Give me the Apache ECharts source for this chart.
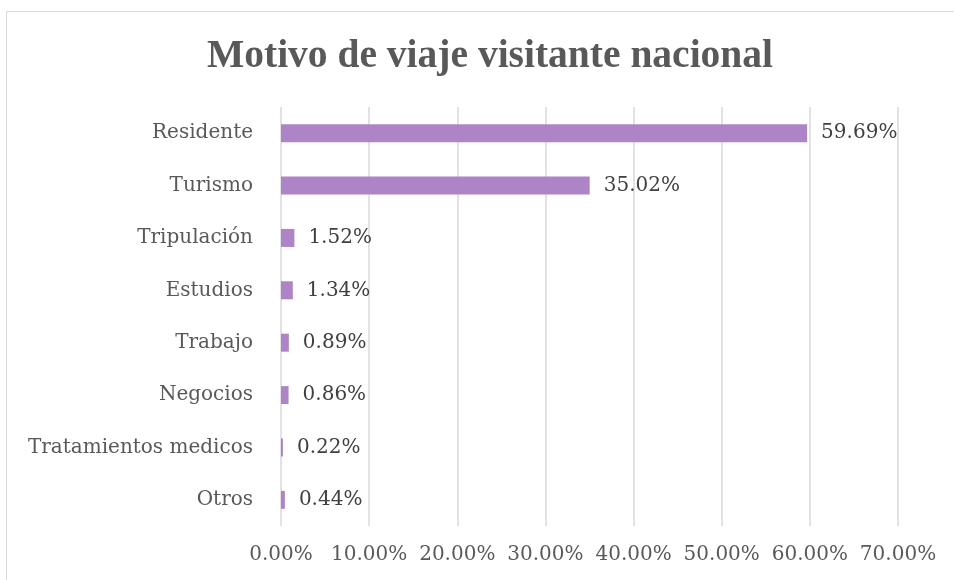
<!DOCTYPE html>
<html>
<head>
<meta charset="utf-8">
<script src="https://cdn.jsdelivr.net/npm/echarts@6/dist/echarts.min.js"></script>
<style>
    html, body { margin: 0; padding: 0; background: #fff; }
    #chart { width: 954px; height: 580px; }
</style>
</head>
<body>
<div id="chart"></div>
<script>
    // motivos de viaje (de arriba hacia abajo)
    var categorias = ["Residente", "Turismo", "Tripulación", "Estudios", "Trabajo", "Negocios", "Tratamientos medicos", "Otros"];
    // porcentajes
    var valores = [59.69, 35.02, 1.52, 1.34, 0.89, 0.86, 0.22, 0.44];
    var ejeMax = 70;
    var ejePaso = 10;

    var serif = "'DejaVu Serif', 'Liberation Serif', serif";
    var chart = echarts.init(document.getElementById("chart"));

    var option = {
        backgroundColor: "#fff",
        animation: false,
        title: {
            text: "Motivo de viaje visitante nacional",
            left: 485,
            top: 32,
            textAlign: "center",
            textStyle: {
                fontFamily: "'Liberation Serif', serif",
                fontSize: 39.5,
                fontWeight: "bold",
                color: "#595959"
            }
        },
        graphic: [{
            type: "rect",
            shape: { x: 6.5, y: 11.5, width: 1000, height: 1000 },
            style: { fill: "none", stroke: "#d9d9d9", lineWidth: 1 },
            silent: true
        }],
        grid: {
            left: 281,
            right: 56,
            top: 107,
            bottom: 54
        },
        xAxis: {
            type: "value",
            min: 0,
            max: ejeMax,
            interval: ejePaso,
            axisLine: { show: false },
            axisTick: { show: false },
            splitLine: { lineStyle: { color: "#d9d9d9", width: 1.5 } },
            axisLabel: {
                margin: 19,
                fontFamily: serif,
                fontSize: 20,
                color: "#595959",
                formatter: function (v) { return v.toFixed(2) + "%"; }
            }
        },
        yAxis: {
            type: "category",
            inverse: true,
            data: categorias,
            axisLine: { show: false },
            axisTick: { show: false },
            axisLabel: {
                margin: 28,
                padding: [4, 0, 0, 0],
                fontFamily: serif,
                fontSize: 20,
                color: "#595959"
            }
        },
        series: [{
            type: "bar",
            data: valores,
            barWidth: 18,
            itemStyle: { color: "#ad84c6" },
            label: {
                show: true,
                position: "right",
                distance: 14,
                padding: [4, 0, 0, 0],
                fontFamily: serif,
                fontSize: 20,
                color: "#404040",
                formatter: function (p) { return p.value.toFixed(2) + "%"; }
            }
        }]
    };

    chart.setOption(option);
</script>
</body>
</html>
